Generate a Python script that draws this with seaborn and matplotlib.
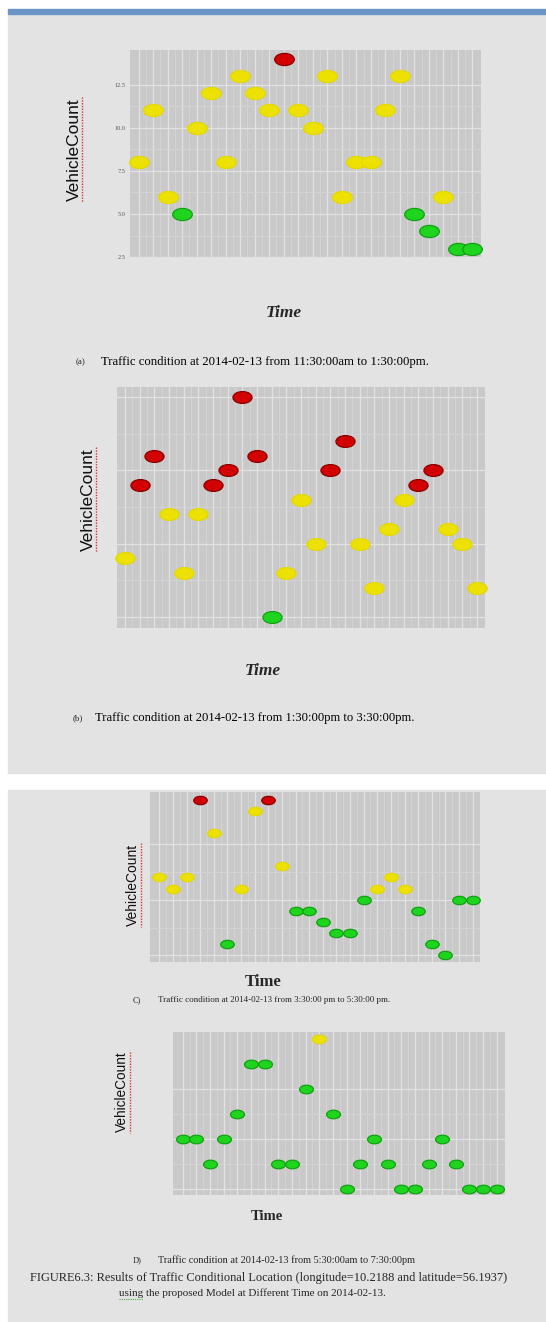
"""
Traffic condition at one location (lon 10.2188, lat 56.1937) on 2014-02-13,
four two-hour windows, vehicle count per time slot coloured by condition.
"""

import matplotlib
matplotlib.use("Agg")
import matplotlib.pyplot as plt
import numpy as np
import pandas as pd
import seaborn as sns
from matplotlib.lines import Line2D
from matplotlib.patches import Rectangle
from matplotlib.path import Path
from matplotlib.transforms import Affine2D

W, H = 546, 1322

# vehicle counts per time slot
counts_a = [8, 11, 6, 5, 10, 12, 8, 13, 12, 11, 14, 11, 10, 13, 6, 8, 8, 11, 13, 5, 4, 6, 3, 3]
counts_b = [9, 14, 16, 12, 8, 12, 14, 15, 20, 16, 5, 8, 13, 10, 15, 17, 10, 7, 11, 13, 14, 15, 11, 10, 7]
counts_c = [7, 6, 7, 14, 11, 1, 6, 13, 14, 8, 4, 4, 3, 2, 2, 5, 6, 7, 6, 4, 1, 0, 5, 5]
counts_d = [2, 2, 1, 2, 3, 5, 5, 1, 1, 4, 6, 3, 0, 1, 2, 1, 0, 0, 1, 2, 1, 0, 0, 0]

# condition thresholds (count >= value)
HEAVY_FROM  = 14
MEDIUM_FROM = 6
CONDITIONS  = ["low", "medium", "heavy"]

FILL = {"low": "#1ed41e", "medium": "#ece100", "heavy": "#d20000"}
EDGE = {"low": "#12a012", "medium": "#e3d800", "heavy": "#8a0000"}

BOX   = "#e3e3e3"
PANEL = "#c9c9c9"

ELLIPSE = Path.unit_circle().transformed(Affine2D().scale(1.0, 0.62))


def condition(v):
    if v >= HEAVY_FROM:
        return "heavy"
    if v >= MEDIUM_FROM:
        return "medium"
    return "low"


def px_rect(l, t, r, b):
    return [l / W, 1 - b / H, (r - l) / W, (b - t) / H]


def fx(x):
    return x / W


def fy(y):
    return 1 - y / H


def draw_panel(fig, rect, counts, ylim, yticks, ytick_labels, size, xpad):
    ax = fig.add_axes(px_rect(*rect))
    df = pd.DataFrame({"slot": np.arange(len(counts)), "count": counts})
    df["condition"] = df["count"].map(condition)

    ax.set_facecolor(PANEL)
    for cond in CONDITIONS:
        sub = df[df["condition"] == cond]
        if sub.empty:
            continue
        sns.scatterplot(
            data=sub, x="slot", y="count", ax=ax,
            marker=ELLIPSE, s=size, color=FILL[cond],
            edgecolor=EDGE[cond], linewidth=0.9, legend=False, zorder=3,
            clip_on=False,
        )

    n = len(counts)
    ax.set_xlim(-xpad[0], n - 1 + xpad[1])
    ax.set_ylim(*ylim)
    ax.set_xticks(np.arange(n))
    ax.set_xticks(np.arange(n - 1) + 0.5, minor=True)
    ax.set_xticklabels([])
    ax.set_yticks(yticks)
    ax.set_yticks(np.array(yticks[:-1]) + (yticks[1] - yticks[0]) / 2, minor=True)
    ax.set_yticklabels(ytick_labels, fontsize=4.5, color="#555555")
    ax.grid(which="major", color="#e2e2e2", linewidth=0.9)
    ax.grid(which="minor", color="#d6d6d6", linewidth=0.6)
    ax.set_axisbelow(True)
    ax.tick_params(which="major", length=2, width=0.6, color="#777777", pad=1.5)
    ax.tick_params(which="minor", length=0)
    for s in ax.spines.values():
        s.set_visible(False)
    ax.set_xlabel("")
    ax.set_ylabel("")
    return ax


sns.set_style("white")
plt.rcParams["font.family"] = ["Liberation Serif", "DejaVu Serif"]

fig = plt.figure(figsize=(W / 100, H / 100), dpi=100, facecolor="white")

# page boxes and ruler
fig.add_artist(Rectangle((fx(8), fy(773)), fx(538), 759 / H, transform=fig.transFigure,
                         color=BOX, zorder=0))
fig.add_artist(Rectangle((fx(8), 0), fx(538), 532 / H, transform=fig.transFigure,
                         color=BOX, zorder=0))
fig.add_artist(Rectangle((fx(8), fy(14)), fx(538), 5 / H, transform=fig.transFigure,
                         color="#6b94c8", zorder=1))

draw_panel(fig, (130, 50, 481, 258), counts_a, (2.45, 14.5),
           [2.5, 5.0, 7.5, 10.0, 12.5], ["2.5", "5.0", "7.5", "10.0", "12.5"], 200, (0.6, 0.6))
draw_panel(fig, (117, 387, 485, 628), counts_b, (4.25, 20.68),
           [5, 10, 15, 20], [], 190, (0.55, 0.55))
draw_panel(fig, (150, 792, 480, 962), counts_c, (-0.6, 14.68),
           [0, 5, 10], [], 95, (0.68, 0.54))
draw_panel(fig, (173, 1032, 505, 1195), counts_d, (-0.24, 6.28),
           [0, 2, 4], [], 100, (0.71, 0.6))

# y labels (sans) with spell-check underline
sans = ["Liberation Sans", "DejaVu Sans"]
for x, y, fs, y0, y1 in [(74, 150, 12.5, 97, 202), (88, 500, 12.5, 447, 552),
                         (133, 885, 10, 843, 927), (122, 1092, 9.8, 1052, 1133)]:
    fig.text(fx(x), fy(y), "VehicleCount", rotation=90, ha="center", va="center",
             fontsize=fs, family=sans, color="#111111")
    fig.add_artist(Line2D([fx(x + 8), fx(x + 8)], [fy(y0), fy(y1)], transform=fig.transFigure,
                          color="#e03030", linewidth=1.0, linestyle=(0, (1, 1))))

# x labels
fig.text(fx(284), fy(313), "Time", ha="center", va="center", fontsize=12.5,
         fontweight="bold", style="italic")
fig.text(fx(263), fy(671), "Time", ha="center", va="center", fontsize=12.5,
         fontweight="bold", style="italic")
fig.text(fx(263), fy(982), "Time", ha="center", va="center", fontsize=12, fontweight="bold")
fig.text(fx(267), fy(1217), "Time", ha="center", va="center", fontsize=10.5, fontweight="bold")

# sub captions
fig.text(fx(76), fy(362), "(a)", ha="left", va="center", fontsize=6.5)
fig.text(fx(101), fy(362), "Traffic condition at 2014-02-13 from 11:30:00am to 1:30:00pm.",
         ha="left", va="center", fontsize=9.2, color="black")
fig.text(fx(73), fy(718), "(b)", ha="left", va="center", fontsize=6.5)
fig.text(fx(95), fy(718), "Traffic condition at 2014-02-13 from 1:30:00pm to 3:30:00pm.",
         ha="left", va="center", fontsize=9.1, color="black")
fig.text(fx(133), fy(1000), "C)", ha="left", va="center", fontsize=6)
fig.text(fx(158), fy(1000), "Traffic condition at 2014-02-13 from 3:30:00 pm to 5:30:00 pm.",
         ha="left", va="center", fontsize=6.45)
fig.text(fx(133), fy(1260), "D)", ha="left", va="center", fontsize=6)
fig.text(fx(158), fy(1260), "Traffic condition at 2014-02-13 from 5:30:00am to 7:30:00pm",
         ha="left", va="center", fontsize=7.4)

# figure caption
fig.text(fx(30), fy(1278),
         "FIGURE6.3: Results of Traffic Conditional Location (longitude=10.2188 and latitude=56.1937)",
         ha="left", va="center", fontsize=8.9)
fig.text(fx(119), fy(1293), "using the proposed Model at Different Time on 2014-02-13.",
         ha="left", va="center", fontsize=8.0)
fig.add_artist(Line2D([fx(119), fx(143)], [fy(1299), fy(1299)], transform=fig.transFigure,
                      color="#4caf50", linewidth=0.8, linestyle=(0, (1, 1))))

fig.savefig("out.png", dpi=100, facecolor="white")
